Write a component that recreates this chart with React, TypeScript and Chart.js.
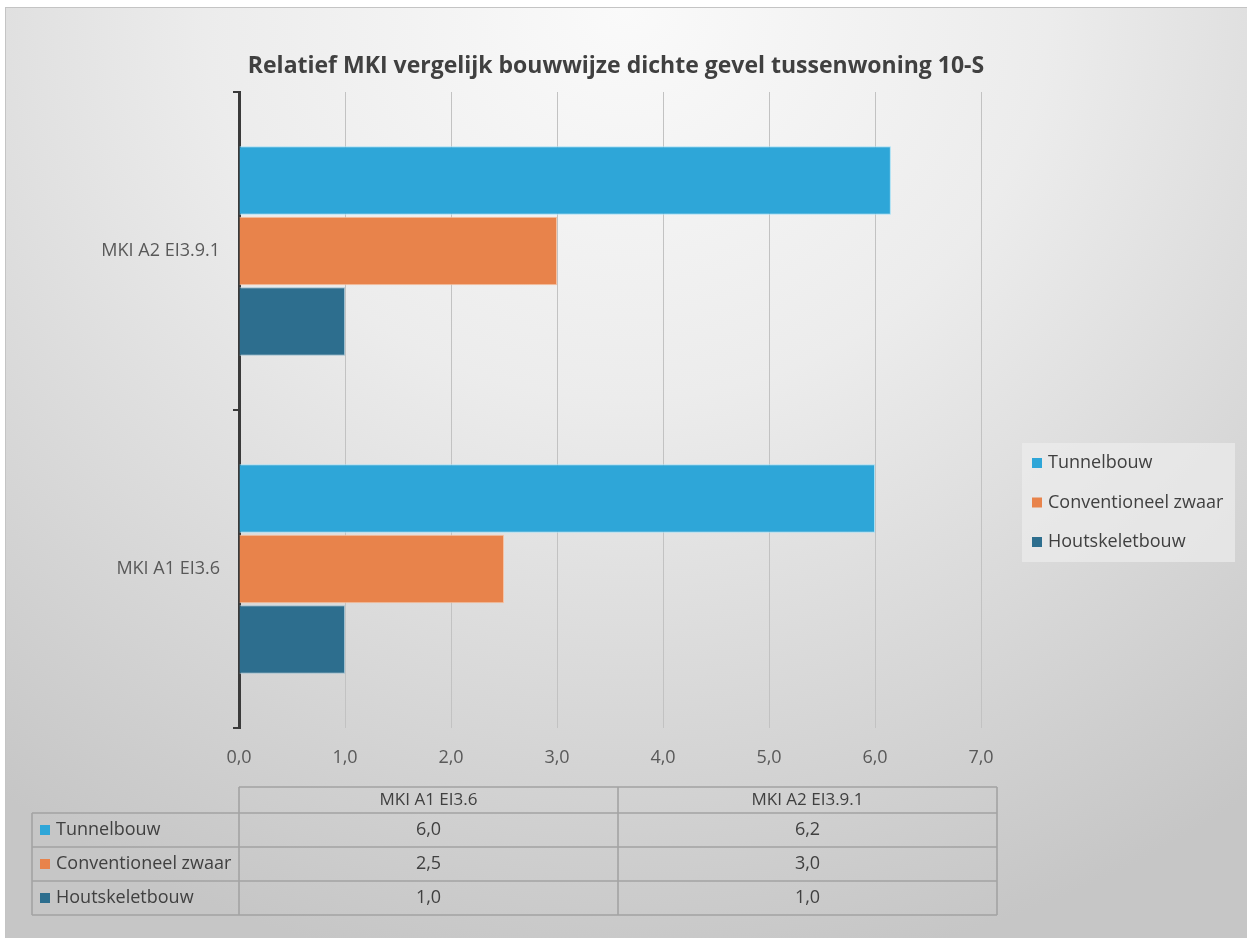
import React, { useEffect, useRef } from "react";
import { Chart, registerables } from "chart.js";

Chart.register(...registerables);

// Chart content
const chartTitle = "Relatief MKI vergelijk bouwwijze dichte gevel tussenwoning 10-S";
const categories = ["MKI A1 EI3.6", "MKI A2 EI3.9.1"];
const seriesNames = ["Tunnelbouw", "Conventioneel zwaar", "Houtskeletbouw"];
const tunnelbouw = [6.0, 6.15];
const conventioneelZwaar = [2.5, 3.0];
const houtskeletbouw = [1.0, 1.0];
const xMin = 0;
const xMax = 7;
const xStep = 1;

const seriesValues = [tunnelbouw, conventioneelZwaar, houtskeletbouw];
const seriesColors = ["#2ea6d8", "#e8834b", "#2d6e8e"];
const seriesEdges = ["#a6e0f6", "#f6c2a3", "#9fbfcf"];

const FONT = "'Open Sans', 'Noto Sans', sans-serif";
const TEXT = "#595959";
const DARK = "#404040";

const fmt = (v: number) => (Math.round(v * 10) / 10).toFixed(1).replace(".", ",");

// Title, side legend and the data table under the axis
const extrasPlugin = {
  id: "extras",
  afterDraw(chart: any) {
    const ctx: CanvasRenderingContext2D = chart.ctx;
    const area = chart.chartArea;
    ctx.save();

    // title
    ctx.fillStyle = DARK;
    ctx.font = `700 23px ${FONT}`;
    ctx.textAlign = "center";
    ctx.textBaseline = "middle";
    ctx.fillText(chartTitle, 610, 58);

    // legend
    const lgX = 1016, lgY = 435, lgW = 213, lgH = 119;
    ctx.fillStyle = "rgba(236,236,236,0.7)";
    ctx.fillRect(lgX, lgY, lgW, lgH);
    ctx.font = `18px ${FONT}`;
    ctx.textAlign = "left";
    seriesNames.forEach((name, i) => {
      const cy = lgY + 20 + i * 39.5;
      ctx.fillStyle = seriesColors[i];
      ctx.fillRect(lgX + 10, cy - 5, 10, 10);
      ctx.fillStyle = DARK;
      ctx.fillText(name, lgX + 26, cy);
    });

    // data table
    const left = area.left;
    const right = area.right + 16;
    const mid = (left + right) / 2;
    const labelLeft = 26;
    const headTop = 779;
    const headH = 26;
    const rowH = 34;
    const bodyTop = headTop + headH;
    const bodyBottom = bodyTop + rowH * seriesNames.length;

    ctx.strokeStyle = "#a3a3a3";
    ctx.lineWidth = 1.6;
    ctx.beginPath();
    ctx.moveTo(left, headTop);
    ctx.lineTo(right, headTop);
    ctx.moveTo(left, headTop);
    ctx.lineTo(left, bodyBottom);
    ctx.moveTo(right, headTop);
    ctx.lineTo(right, bodyBottom);
    ctx.moveTo(mid, headTop);
    ctx.lineTo(mid, bodyBottom);
    for (let r = 0; r <= seriesNames.length; r++) {
      const y = bodyTop + r * rowH;
      ctx.moveTo(labelLeft, y);
      ctx.lineTo(right, y);
    }
    ctx.moveTo(labelLeft, bodyTop);
    ctx.lineTo(labelLeft, bodyBottom);
    ctx.stroke();

    const colCenters = [(left + mid) / 2, (mid + right) / 2];
    ctx.fillStyle = DARK;
    ctx.textAlign = "center";
    ctx.font = `17px ${FONT}`;
    categories.forEach((c, j) => ctx.fillText(c, colCenters[j], headTop + headH / 2));

    ctx.font = `18px ${FONT}`;
    seriesNames.forEach((name, i) => {
      const cy = bodyTop + i * rowH + rowH / 2;
      ctx.fillStyle = seriesColors[i];
      ctx.fillRect(labelLeft + 8, cy - 5, 10, 10);
      ctx.fillStyle = DARK;
      ctx.textAlign = "left";
      ctx.fillText(name, labelLeft + 24, cy);
      ctx.textAlign = "center";
      seriesValues[i].forEach((v, j) => ctx.fillText(fmt(v), colCenters[j], cy));
    });

    ctx.restore();
  },
};

export default function App() {
  const canvasRef = useRef<HTMLCanvasElement | null>(null);

  useEffect(() => {
    if (!canvasRef.current) return;
    const chart = new Chart(canvasRef.current, {
      type: "bar",
      data: {
        labels: categories,
        datasets: seriesNames.map((name, i) => ({
          label: name,
          data: seriesValues[i],
          backgroundColor: seriesColors[i],
          borderColor: seriesEdges[i],
          borderWidth: 1,
          categoryPercentage: 0.665,
          barPercentage: 0.97,
        })),
      },
      options: {
        indexAxis: "y",
        responsive: false,
        animation: false,
        layout: { padding: { left: 0, right: 266, top: 84, bottom: 0 } },
        plugins: {
          legend: { display: false },
          title: { display: false },
          tooltip: { enabled: false },
        },
        scales: {
          y: {
            type: "category",
            reverse: true,
            offset: true,
            grid: {
              display: true,
              offset: true,
              drawOnChartArea: false,
              drawTicks: true,
              tickLength: 6,
              color: "#3a3a3a",
              lineWidth: 2,
            },
            border: { display: true, color: "#3a3a3a", width: 3 },
            ticks: { color: TEXT, font: { family: FONT, size: 18 }, padding: 13 },
            afterFit: (s: any) => {
              s.width = 233;
            },
          },
          x: {
            min: xMin,
            max: xMax,
            grid: { color: "#c2c2c2", lineWidth: 1, drawTicks: false },
            border: { display: false },
            ticks: {
              stepSize: xStep,
              color: TEXT,
              font: { family: FONT, size: 18 },
              padding: 19,
              callback: (v: any) => fmt(Number(v)),
            },
            afterFit: (s: any) => {
              s.height = 210;
            },
          },
        },
      },
      plugins: [extrasPlugin],
    } as any);
    return () => chart.destroy();
  }, []);

  return (
    <div
      style={{
        position: "fixed",
        left: 5,
        top: 7,
        width: 1242,
        height: 931,
        boxSizing: "border-box",
        borderTop: "1px solid #c4c4c4",
        borderLeft: "1px solid #c4c4c4",
        background:
          "radial-gradient(ellipse 85% 105% at 50% 0%, #fafafa 0%, #ececec 40%, #d9d9d9 70%, #c6c6c6 100%)",
      }}
    >
      <canvas
        ref={canvasRef}
        width={1241}
        height={930}
        style={{ position: "absolute", left: 0, top: 0, width: 1241, height: 930 }}
      />
    </div>
  );
}
